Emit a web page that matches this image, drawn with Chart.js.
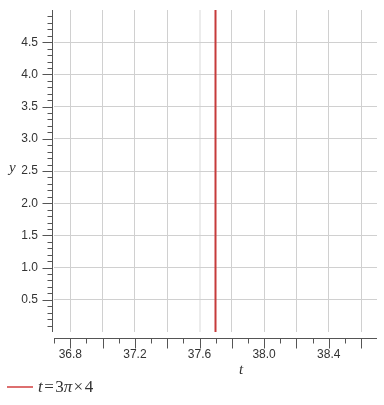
<!DOCTYPE html>
<html>
<head>
<meta charset="utf-8">
<script src="https://cdn.jsdelivr.net/npm/chart.js@4"></script>
<style>
  html, body { margin: 0; padding: 0; background: #fff; }
  #wrap { position: relative; width: 384px; height: 405px; }
  .axisTitle {
    position: absolute;
    font-family: "Liberation Serif", "DejaVu Serif", serif;
    font-style: italic;
    font-size: 15px;
    color: #333;
    line-height: 1;
  }
  #legend {
    position: absolute; left: 7px; top: 378px;
    font-family: "Liberation Serif", "DejaVu Serif", serif;
    font-size: 17px; color: #333; line-height: 1;
    display: flex; align-items: center;
  }
  #legend .swatch { width: 26px; height: 2px; background: #dd6f6f; margin-right: 5px; }
</style>
</head>
<body>
<div id="wrap">
  <canvas id="plot" width="384" height="405"></canvas>
  <span class="axisTitle" style="left:9px;top:160px">y</span>
  <span class="axisTitle" style="left:239px;top:362px">t</span>
  <div id="legend"><span class="swatch"></span><span><i>t</i>&#8202;=&#8202;3<i>π</i>&#8202;×&#8202;4</span></div>
</div>
<script>
// vertical line t = 3*pi*4 ~ 37.699
const lineT = [37.699, 37.699];
const lineY = [0, 5];

const xMin = 36.699, xMax = 38.699;
const yMin = 0, yMax = 5;

const xLabelTicks = [36.8, 37.2, 37.6, 38.0, 38.4];
const yLabelTicks = [0.5, 1.0, 1.5, 2.0, 2.5, 3.0, 3.5, 4.0, 4.5];

const xMinorStep = 0.1, xGridStep = 0.2;
const yMinorStep = 0.1, yGridStep = 0.5;

// the grid line at 37.6 is drawn softer in the original
const xSoftGrid = 37.6;

function isMultiple(v, step) {
  const r = v / step;
  return Math.abs(r - Math.round(r)) < 1e-6;
}

function stepTicks(from, to, step) {
  const out = [];
  const start = Math.ceil(from / step - 1e-9);
  const end = Math.floor(to / step + 1e-9);
  for (let i = start; i <= end; i++) out.push({ value: +(i * step).toFixed(4) });
  return out;
}

// axis lines + ticks of two lengths, placed like the reference
const axisPlugin = {
  id: "axisPlugin",
  afterDraw(chart) {
    const { ctx, chartArea, scales } = chart;
    const xs = scales.x, ys = scales.y;
    ctx.save();
    ctx.strokeStyle = "#555";
    ctx.lineWidth = 1;

    // y axis
    const ax = chartArea.left - 1.5;
    ctx.beginPath();
    ctx.moveTo(ax, chartArea.top);
    ctx.lineTo(ax, chartArea.bottom);
    for (const t of ys.ticks) {
      const py = Math.round(ys.getPixelForValue(t.value)) + 0.5;
      const len = isMultiple(t.value, yGridStep) ? 10 : 5;
      ctx.moveTo(ax, py);
      ctx.lineTo(ax - len, py);
    }
    ctx.stroke();

    // x axis, pushed a bit below the plot
    const ay = chartArea.bottom + 6.5;
    ctx.beginPath();
    ctx.moveTo(chartArea.left, ay);
    ctx.lineTo(chartArea.right, ay);
    for (const t of xs.ticks) {
      const px = Math.round(xs.getPixelForValue(t.value)) + 0.5;
      const len = isMultiple(t.value, xGridStep) ? 10 : 5;
      ctx.moveTo(px, ay);
      ctx.lineTo(px, ay + len);
    }
    ctx.stroke();
    ctx.restore();
  }
};

Chart.defaults.font.family = '"Liberation Sans", Arial, sans-serif';
Chart.defaults.font.size = 12;
Chart.defaults.color = "#333";

new Chart(document.getElementById("plot").getContext("2d"), {
  type: "scatter",
  data: {
    datasets: [{
      label: "t = 3π × 4",
      data: lineT.map((t, i) => ({ x: t, y: lineY[i] })),
      showLine: true,
      borderColor: "#c63b3b",
      borderWidth: 2,
      pointRadius: 0
    }]
  },
  options: {
    responsive: false,
    animation: false,
    layout: { padding: { top: 10, right: 7, left: 0, bottom: 0 } },
    plugins: {
      legend: { display: false },
      tooltip: { enabled: false }
    },
    scales: {
      x: {
        type: "linear",
        min: xMin, max: xMax,
        afterFit: s => { s.height = 73; s.paddingLeft = 0; s.paddingRight = 0; },
        afterBuildTicks: s => { s.ticks = stepTicks(xMin, xMax, xMinorStep); },
        border: { display: false },
        grid: {
          drawTicks: false,
          lineWidth: c => Math.abs(c.tick.value - xSoftGrid) < 1e-6 ? 2 : 1,
          color: c => {
            if (!isMultiple(c.tick.value, xGridStep)) return "rgba(0,0,0,0)";
            return Math.abs(c.tick.value - xSoftGrid) < 1e-6 ? "#ececec" : "#d0d0d0";
          }
        },
        ticks: {
          autoSkip: false,
          maxRotation: 0,
          padding: 15,
          callback: v => xLabelTicks.some(l => Math.abs(l - v) < 1e-6) ? v.toFixed(1) : ""
        }
      },
      y: {
        type: "linear",
        min: yMin, max: yMax,
        afterFit: s => { s.width = 54; s.paddingTop = 0; s.paddingBottom = 0; },
        afterBuildTicks: s => { s.ticks = stepTicks(yMinorStep, yMax - yMinorStep, yMinorStep); },
        border: { display: false },
        grid: {
          drawTicks: false,
          color: c => isMultiple(c.tick.value, yGridStep) ? "#d0d0d0" : "rgba(0,0,0,0)"
        },
        ticks: {
          autoSkip: false,
          padding: 16,
          callback: v => yLabelTicks.some(l => Math.abs(l - v) < 1e-6) ? v.toFixed(1) : ""
        }
      }
    }
  },
  plugins: [axisPlugin]
});
</script>
</body>
</html>
